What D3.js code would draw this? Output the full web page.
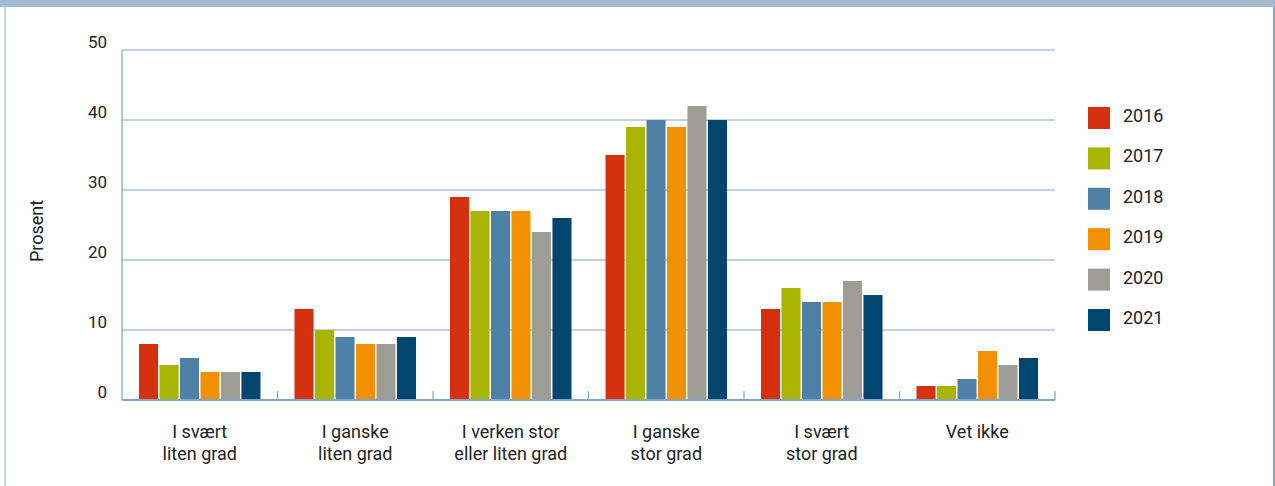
<!DOCTYPE html>
<html><head><meta charset="utf-8">
<script src="https://cdn.jsdelivr.net/npm/d3@7"></script>
<style>
body{margin:0;background:#fff;}
svg{display:block;font-family:Roboto,"Noto Sans",sans-serif;}
</style></head>
<body>
<script>
const categories = [["I svært","liten grad"],["I ganske","liten grad"],["I verken stor","eller liten grad"],["I ganske","stor grad"],["I svært","stor grad"],["Vet ikke"]];
const years = ["2016","2017","2018","2019","2020","2021"];
const v2016 = [8,13,29,35,13,2];
const v2017 = [5,10,27,39,16,2];
const v2018 = [6,9,27,40,14,3];
const v2019 = [4,8,27,39,14,7];
const v2020 = [4,8,24,42,17,5];
const v2021 = [4,9,26,40,15,6];
const series = [v2016,v2017,v2018,v2019,v2020,v2021];
const colors = ["#d5310f","#a9b400","#4f81a6","#f29100","#9d9d95","#00466e"];
const yTicks = [0,10,20,30,40,50];

const W=1275,H=486;
const svg=d3.select("body").append("svg").attr("width",W).attr("height",H);
// frame
svg.append("rect").attr("x",0).attr("y",0).attr("width",W).attr("height",7).attr("fill","#a3b9d1");
svg.append("rect").attr("x",4).attr("y",7).attr("width",2).attr("height",H-7).attr("fill","#c5d5e5");
svg.append("rect").attr("x",1273).attr("y",7).attr("width",2).attr("height",H-7).attr("fill","#7fa6c8");

const x0=122,x1=1055,yTop=50,yBot=400;
const x=d3.scaleBand().domain(d3.range(categories.length)).range([x0,x1]).paddingInner(0).paddingOuter(0);
const xs=d3.scaleBand().domain(d3.range(years.length)).range([17,x.bandwidth()-17]).paddingInner(0.07);
const y=d3.scaleLinear().domain([0,50]).range([yBot,yTop]);

const g=svg.append("g");
// gridlines
g.selectAll(".grid").data(yTicks.filter(d=>d>0)).join("line")
 .attr("x1",x0).attr("x2",x1).attr("y1",d=>y(d)).attr("y2",d=>y(d))
 .attr("stroke","#7fa6c8").attr("stroke-width",1.2);
// y labels
g.selectAll(".yl").data(yTicks).join("text")
 .attr("x",107).attr("y",d=>y(d)-2).attr("text-anchor","end")
 .attr("font-size",17).attr("fill","#222").text(d=>d);
// bars
categories.forEach((c,i)=>{
  series.forEach((s,j)=>{
    g.append("rect").attr("x",x(i)+xs(j)).attr("width",xs.bandwidth())
     .attr("y",y(s[i])).attr("height",y(0)-y(s[i])).attr("fill",colors[j]);
  });
});
// y axis line
g.append("line").attr("x1",x0).attr("x2",x0).attr("y1",yTop).attr("y2",yBot).attr("stroke","#7fa6c8").attr("stroke-width",1.2);
// x axis
g.append("line").attr("x1",x0).attr("x2",x1).attr("y1",yBot).attr("y2",yBot).attr("stroke","#7fa6c8").attr("stroke-width",2);
const tickPos=d3.range(categories.length+1).map(i=>x0+i*x.bandwidth());
g.selectAll(".xt").data(tickPos.slice(1)).join("line")
 .attr("x1",d=>d).attr("x2",d=>d).attr("y1",yBot-9).attr("y2",yBot).attr("stroke","#7fa6c8").attr("stroke-width",1.2);
// x labels
categories.forEach((c,i)=>{
  c.forEach((line,k)=>{
    g.append("text").attr("x",x(i)+x.bandwidth()/2).attr("y",438+k*21.5)
     .attr("text-anchor","middle").attr("font-size",18).attr("fill","#222").text(line);
  });
});
// y title
svg.append("text").attr("transform","translate(43,231) rotate(-90)").attr("text-anchor","middle")
 .attr("font-size",18).attr("fill","#222").text("Prosent");
// legend
years.forEach((yr,j)=>{
  svg.append("rect").attr("x",1088).attr("y",107+j*40.4).attr("width",22).attr("height",22).attr("fill",colors[j]);
  svg.append("text").attr("x",1123).attr("y",122+j*40.4).attr("font-size",18).attr("fill","#222").text(yr);
});
</script>
</body></html>
